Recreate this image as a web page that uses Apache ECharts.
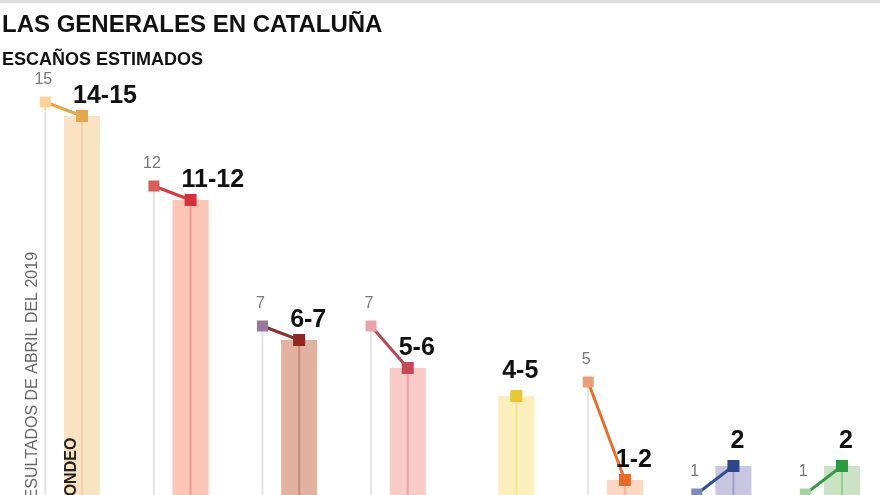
<!DOCTYPE html>
<html><head><meta charset="utf-8">
<script src="https://cdn.jsdelivr.net/npm/echarts@6/dist/echarts.min.js"></script>
<style>html,body{margin:0;padding:0;background:#fff}#c{width:880px;height:495px}</style>
</head><body><div id="c"></div>
<script>
// ---- data ----
const rangeLabels = ['14-15', '11-12', '6-7', '5-6', '4-5', '1-2', '2', '2'];
const estimate = [14.5, 11.5, 6.5, 5.5, 4.5, 1.5, 2, 2];
const previous = [15, 12, 7, 7, null, 5, 1, 1];

// ---- styles ----
const barColors  = ['#fae3c3', '#fcc6b6', '#e0b29f', '#f8cbc8', '#fbf0bd', '#fcd7c3', '#c9c6e2', '#cbe2c5'];
const markColors = ['#e4a84a', '#d8303a', '#8e2a22', '#c44a58', '#ecc630', '#e86a24', '#2c4688', '#2a9a3e'];
const prevColors = ['#fad39a', '#d9605a', '#9a7899', '#eaa4aa', '#cccccc', '#e6a07a', '#7d8cc0', '#a6d2a0'];
const lineColors = ['#e5a845', '#d83a40', '#8e3030', '#b84858', '#cccccc', '#e0702c', '#34508e', '#3a9a48'];
const PREV_OFFSET = 0.338;
const BAR_W = 0.332;
const FONT = '"Liberation Sans", Arial, Helvetica, sans-serif';

const barData = estimate.map((v, i) => [i, v]);
const prevData = previous.map((v, i) => v == null ? null : [i - PREV_OFFSET, v, i, estimate[i]]).filter(Boolean);

const chart = echarts.init(document.getElementById('c'));

const option = {
  animation: false,
  backgroundColor: '#ffffff',
  grid: { left: 0, right: 0, top: 74, bottom: 0, containLabel: false },
  xAxis: { type: 'value', min: -0.7553, max: 7.350, show: false },
  yAxis: { type: 'value', min: 0.964, max: 16, show: false },
  graphic: [
    { type: 'rect', shape: { x: 0, y: 0, width: 880, height: 3 }, style: { fill: '#dcdcdc' }, z: 10 },
    { type: 'text', x: 2, y: 25, style: { text: 'LAS GENERALES EN CATALUÑA', font: 'bold 24px ' + FONT, fill: '#111', align: 'left', verticalAlign: 'middle' } },
    { type: 'text', x: 2, y: 60, style: { text: 'ESCAÑOS ESTIMADOS', font: 'bold 18px ' + FONT, fill: '#111', align: 'left', verticalAlign: 'middle' } },
    { type: 'text', x: 33, y: 511, rotation: Math.PI / 2, style: { text: 'RESULTADOS DE ABRIL DEL 2019', font: '16px ' + FONT, fill: '#666', align: 'left', verticalAlign: 'middle' }, z: 5 },
    { type: 'text', x: 72, y: 507, rotation: Math.PI / 2, style: { text: 'SONDEO', font: 'bold 16px ' + FONT, fill: '#222', align: 'left', verticalAlign: 'middle' }, z: 5 }
  ],
  series: [
    {
      type: 'custom', z: 1, data: barData, clip: false,
      renderItem(params, api) {
        const i = api.value(0), v = api.value(1);
        const top = api.coord([i, v]);
        const base = api.coord([i, 0]);
        const w = api.size([BAR_W, 0])[0];
        return {
          type: 'group', children: [
            { type: 'rect', shape: { x: top[0] - w / 2, y: top[1], width: w, height: base[1] - top[1] }, style: { fill: barColors[i] } },
            { type: 'line', shape: { x1: top[0], y1: top[1], x2: base[0], y2: base[1] }, style: { stroke: markColors[i], opacity: 0.3, lineWidth: 2 } }
          ]
        };
      }
    },
    {
      type: 'custom', z: 2, data: prevData, clip: false,
      renderItem(params, api) {
        const px = api.value(0), pv = api.value(1), g = api.value(2), ev = api.value(3);
        const p = api.coord([px, pv]);
        const pb = api.coord([px, 0]);
        const e = api.coord([g, ev]);
        const s = 11;
        return {
          type: 'group', children: [
            { type: 'line', shape: { x1: p[0], y1: p[1], x2: pb[0], y2: pb[1] }, style: { stroke: '#e3e3e3', lineWidth: 2 } },
            { type: 'line', shape: { x1: p[0], y1: p[1], x2: e[0], y2: e[1] }, style: { stroke: lineColors[g], lineWidth: 3 } },
            { type: 'rect', shape: { x: p[0] - s / 2, y: p[1] - s / 2, width: s, height: s }, style: { fill: prevColors[g] } },
            { type: 'text', x: p[0] - 2, y: p[1] - 14, style: { text: String(pv), font: '16px ' + FONT, fill: '#777', align: 'center', verticalAlign: 'bottom' } }
          ]
        };
      }
    },
    {
      type: 'custom', z: 3, data: barData, clip: false,
      renderItem(params, api) {
        const i = api.value(0), v = api.value(1);
        const c = api.coord([i, v]);
        const s = 12;
        const down = previous[i] != null && previous[i] > estimate[i];
        const label = down
          ? { type: 'text', x: c[0] - 9, y: c[1] - 7, style: { text: rangeLabels[i], font: 'bold 25px ' + FONT, fill: '#111', align: 'left', verticalAlign: 'bottom' } }
          : { type: 'text', x: c[0] + 4, y: c[1] - 12, style: { text: rangeLabels[i], font: 'bold 25px ' + FONT, fill: '#111', align: 'center', verticalAlign: 'bottom' } };
        return {
          type: 'group', children: [
            { type: 'rect', shape: { x: c[0] - s / 2, y: c[1] - s / 2, width: s, height: s }, style: { fill: markColors[i] } },
            label
          ]
        };
      }
    }
  ]
};
chart.setOption(option);
</script>
</body></html>
